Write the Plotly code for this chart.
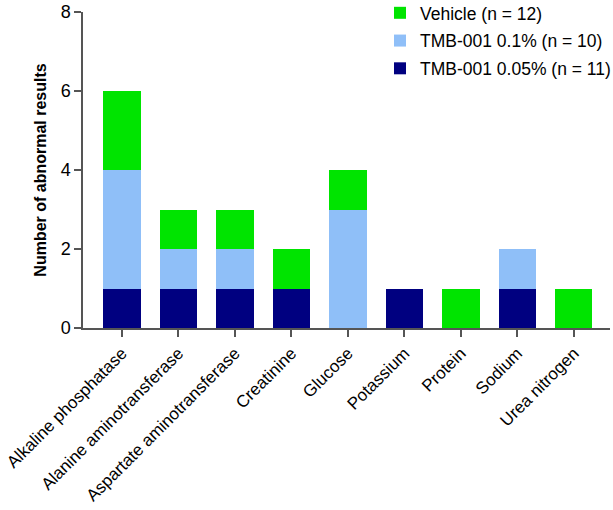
import plotly.graph_objects as go

categories = ["Alkaline phosphatase", "Alanine aminotransferase", "Aspartate aminotransferase",
              "Creatinine", "Glucose", "Potassium", "Protein", "Sodium", "Urea nitrogen"]
tmb_005 = [1, 1, 1, 1, 0, 1, 0, 1, 0]
tmb_01 = [3, 1, 1, 0, 3, 0, 0, 1, 0]
vehicle = [2, 1, 1, 1, 1, 0, 1, 0, 1]
y_ticks = [0, 2, 4, 6, 8]

names = ["TMB-001 0.05% (n = 11)", "TMB-001 0.1% (n = 10)", "Vehicle (n = 12)"]
colors = ["#000080", "#8FBFF8", "#00E400"]
series = [tmb_005, tmb_01, vehicle]
ranks = [3, 2, 1]

fig = go.Figure()
for i, (nm, col, vals) in enumerate(zip(names, colors, series)):
    fig.add_trace(go.Bar(x=categories, y=vals, name=nm, legendgroup=f"g{i}", legendrank=ranks[i],
                         marker=dict(color=col, line=dict(width=0))))

axis_col = "#555555"
fig.update_layout(
    barmode="stack",
    bargap=0.34,
    width=613, height=510,
    margin=dict(l=83, r=3, t=12, b=182, autoexpand=False),
    plot_bgcolor="white", paper_bgcolor="white",
    font=dict(family="Liberation Sans, Arial", size=15, color="black"),
    legend=dict(traceorder="grouped", x=0.5636, y=1.054, xanchor="left", yanchor="top",
                font=dict(size=17.5), itemwidth=30, tracegroupgap=2,
                bgcolor="rgba(0,0,0,0)"),
    xaxis=dict(range=[-0.69, 8.64], showline=True, linecolor=axis_col, linewidth=1.5,
               ticks="outside", ticklen=7, tickcolor=axis_col, tickwidth=1.5,
               tickangle=-45, tickfont=dict(size=17), showgrid=False),
    yaxis=dict(range=[0, 8], tickvals=y_ticks, showline=True, linecolor=axis_col, linewidth=1.5,
               ticks="outside", ticklen=7, tickcolor=axis_col, tickwidth=1.5,
               tickfont=dict(size=18), showgrid=False, zeroline=False, ticklabelstandoff=0,
               title=dict(text="<b>Number of abnormal results</b>", font=dict(size=16), standoff=10)),
)
fig.write_html("out.html", config={"displayModeBar": False},
               post_script="document.body.style.margin='0';document.body.style.overflow='hidden';")
